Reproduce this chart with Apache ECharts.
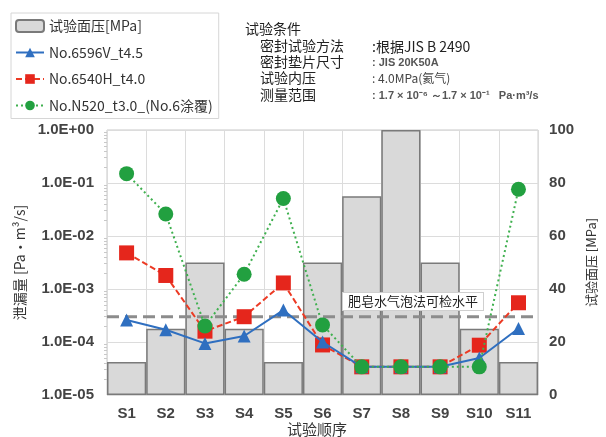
<!DOCTYPE html>
<html>
<head>
<meta charset="utf-8">
<script src="https://cdn.jsdelivr.net/npm/echarts@6/dist/echarts.min.js"></script>
<style>
  html, body { margin: 0; padding: 0; background: #fff; }
  #chart { width: 606px; height: 437px; }
</style>
</head>
<body>
<div id="chart"></div>
<script>
// Test sequence and measured values
const categories = ['S1', 'S2', 'S3', 'S4', 'S5', 'S6', 'S7', 'S8', 'S9', 'S10', 'S11'];
// Surface pressure per step [MPa]
const surfacePressure = [12.5, 25, 50, 25, 12.5, 50, 75, 100, 50, 25, 12.5];
// Leak rate [Pa·m3/s]
const leak6596V = [2.6e-4, 1.7e-4, 9.4e-5, 1.3e-4, 4.0e-4, 1.0e-4, 3.4e-5, 3.4e-5, 3.4e-5, 5.0e-5, 1.8e-4];
const leak6540H = [4.8e-3, 1.8e-3, 1.6e-4, 3.0e-4, 1.3e-3, 8.8e-5, 3.4e-5, 3.4e-5, 3.4e-5, 8.7e-5, 5.5e-4];
const leakN520 = [0.15, 0.026, 2.0e-4, 1.9e-3, 0.051, 2.1e-4, 3.4e-5, 3.4e-5, 3.4e-5, 3.4e-5, 0.076];
// Detection limit of the soap bubble method
const soapBubbleLimit = 3e-4;
const leftTicks = ['1.0E+00', '1.0E-01', '1.0E-02', '1.0E-03', '1.0E-04', '1.0E-05'];
const seriesNames = ['试验面压[MPa]', 'No.6596V_t4.5', 'No.6540H_t4.0', 'No.N520_t3.0_(No.6涂覆)'];

const CJK = '"Noto Sans CJK SC", sans-serif';
const LAT = '"Liberation Sans", Arial, sans-serif';

function fmtExp(v) {
  const e = Math.round(Math.log10(v));
  const label = '1.0E' + (e < 0 ? '-' : '+') + String(Math.abs(e)).padStart(2, '0');
  return leftTicks.includes(label) ? label : '';
}

const chart = echarts.init(document.getElementById('chart'), null, { renderer: 'canvas' });

const condLeft = 260, condVal = 372;
chart.setOption({
  animation: false,
  backgroundColor: '#fff',
  grid: { left: 107, right: 51, top: 130, bottom: 42, show: true, borderColor: '#c8c8c8', borderWidth: 1 },
  legend: {
    data: seriesNames,
    orient: 'vertical',
    left: 11, top: 13,
    padding: [6, 6, 6, 4],
    itemGap: 12.5,
    itemWidth: 28,
    itemHeight: 12,
    borderColor: '#d6d6d6',
    borderWidth: 1,
    textStyle: { fontSize: 14, color: '#333', fontFamily: CJK }
  },
  xAxis: [
    {
      type: 'category',
      data: categories,
      boundaryGap: true,
      axisLine: { show: false },
      axisTick: { show: false },
      splitLine: { show: true, lineStyle: { color: '#dcdcdc', width: 1 } },
      axisLabel: { fontSize: 15, color: '#444', fontFamily: LAT, fontWeight: 'bold', margin: 11 }
    },
    {
      // span axis for full-width reference lines
      type: 'value', min: 0, max: 1, show: false
    }
  ],
  yAxis: [
    {
      type: 'log',
      min: 1e-5,
      max: 1,
      logBase: 10,
      interval: 1,
      position: 'left',
      name: '泄漏量 [Pa・m³/s]',
      nameLocation: 'middle',
      nameGap: 76,
      nameRotate: 90,
      nameTextStyle: { fontSize: 14, color: '#333', fontFamily: CJK },
      axisLine: { show: false },
      axisTick: { show: false },
      minorTick: { show: true, splitNumber: 9, length: 3, lineStyle: { color: '#c8c8c8' } },
      splitLine: { show: true, lineStyle: { color: '#dcdcdc', width: 1 } },
      axisLabel: { formatter: fmtExp, fontSize: 15, color: '#444', fontFamily: LAT, fontWeight: 'bold', margin: 13 }
    },
    {
      type: 'value',
      min: 0,
      max: 100,
      interval: 20,
      position: 'right',
      name: '试验面压 [MPa]',
      nameLocation: 'middle',
      nameGap: 39,
      nameRotate: 90,
      nameTextStyle: { fontSize: 13, color: '#333', fontFamily: CJK },
      axisLine: { show: false },
      axisTick: { show: false },
      splitLine: { show: false },
      axisLabel: { fontSize: 15, color: '#444', fontFamily: LAT, fontWeight: 'bold', margin: 11 }
    }
  ],
  series: [
    {
      name: seriesNames[0],
      type: 'bar',
      yAxisIndex: 1,
      data: surfacePressure,
      barWidth: '100%',
      barGap: '0%',
      itemStyle: { color: '#d9d9d9', borderColor: '#7a7a7a', borderWidth: 1.5 },
      z: 1
    },
    {
      // soap bubble detection limit, drawn across the whole plot
      name: 'soapLimit',
      type: 'line',
      xAxisIndex: 1,
      yAxisIndex: 0,
      data: [[0, soapBubbleLimit], [1, soapBubbleLimit]],
      symbol: 'none',
      silent: true,
      lineStyle: { color: '#8c8c8c', type: [12, 6], width: 3 },
      z: 2
    },
    {
      name: seriesNames[1],
      type: 'line',
      yAxisIndex: 0,
      data: leak6596V,
      symbol: 'triangle',
      symbolSize: 13,
      lineStyle: { color: '#2f6fc0', width: 2 },
      itemStyle: { color: '#2f6fc0' },
      z: 4
    },
    {
      name: seriesNames[2],
      type: 'line',
      yAxisIndex: 0,
      data: leak6540H,
      symbol: 'rect',
      symbolSize: 15,
      lineStyle: { color: '#ec3a24', width: 2, type: [6, 3] },
      itemStyle: { color: '#e5261c' },
      z: 3
    },
    {
      name: seriesNames[3],
      type: 'line',
      yAxisIndex: 0,
      data: leakN520,
      symbol: 'circle',
      symbolSize: 15,
      lineStyle: { color: '#3fb04f', width: 2, type: [2, 3] },
      itemStyle: { color: '#22a040' },
      z: 5
    }
  ],
  graphic: [
    { type: 'text', left: 245, top: 22, style: { text: '试验条件', font: '14px ' + CJK, fill: '#222' } },
    { type: 'text', left: condLeft, top: 39, style: { text: '密封试验方法', font: '14px ' + CJK, fill: '#222' } },
    { type: 'text', left: condLeft, top: 55, style: { text: '密封垫片尺寸', font: '14px ' + CJK, fill: '#222' } },
    { type: 'text', left: condLeft, top: 71, style: { text: '试验内压', font: '14px ' + CJK, fill: '#222' } },
    { type: 'text', left: condLeft, top: 88, style: { text: '测量范围', font: '14px ' + CJK, fill: '#222' } },
    { type: 'text', left: condVal, top: 40, style: { text: ':根据JIS B 2490', font: '14px ' + CJK, fill: '#222' } },
    { type: 'text', left: condVal, top: 57, style: { text: ': JIS 20K50A', font: 'bold 11px ' + LAT, fill: '#555' } },
    { type: 'text', left: condVal, top: 72, style: { text: ': 4.0MPa(氦气)', font: '12px ' + CJK, fill: '#444' } },
    { type: 'text', left: condVal, top: 90, style: { text: ': 1.7 × 10⁻⁶ ～1.7 × 10⁻¹   Pa·m³/s', font: 'bold 11px ' + LAT, fill: '#555' } },
    {
      type: 'text', left: 342, top: 292, z: 20,
      style: {
        text: '肥皂水气泡法可检水平', font: '13px ' + CJK, fill: '#222',
        backgroundColor: '#fff', borderColor: '#cfcfcf', borderWidth: 1, padding: [2, 5]
      }
    },
    { type: 'text', left: 287, top: 422, style: { text: '试验顺序', font: '15px ' + CJK, fill: '#333' } }
  ]
});
</script>
</body>
</html>
